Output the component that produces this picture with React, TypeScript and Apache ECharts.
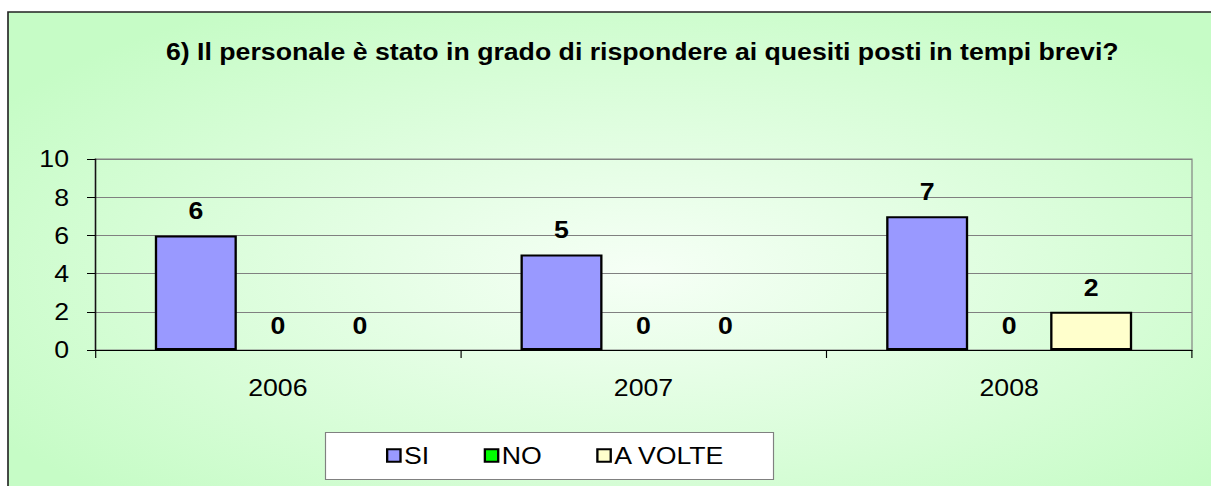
import React, { useEffect, useRef } from "react";
import * as echarts from "echarts";

const categories = ["2006", "2007", "2008"];
const siValues = [6, 5, 7];
const noValues = [0, 0, 0];
const aVolteValues = [0, 0, 2];
const seriesNames = ["SI", "NO", "A VOLTE"];
const yTicks = [0, 2, 4, 6, 8, 10];
const titleText = "6) Il personale è stato in grado di rispondere ai quesiti posti in tempi brevi?";

const FONT = "'Liberation Sans', Arial, sans-serif";
const SX = 1.16; // horizontal stretch of the reference rendering
const W = 1211;
const H = 486;
const sx = (v: number) => v / SX;

export default function App() {
  const ref = useRef<HTMLDivElement>(null);
  useEffect(() => {
    if (!ref.current) return;
    const chart = echarts.init(ref.current, null, { renderer: "svg" });
    const colors = ["#9999ff", "#00ff00", "#ffffcc"];
    const values = [siValues, noValues, aVolteValues];
    const option: any = {
      animation: false,
      graphic: [
        {
          type: "rect",
          z: -10,
          shape: { x: sx(8), y: 12, width: sx(1266), height: 520 },
          style: {
            stroke: "#222",
            lineWidth: 1.4,
            fill: {
              type: "radial",
              x: 0.5,
              y: 0.5,
              r: 0.6,
              colorStops: [
                { offset: 0, color: "#f6fff6" },
                { offset: 1, color: "#c6fcc6" },
              ],
            },
          },
        },
        {
          type: "rect",
          z: -5,
          shape: { x: sx(325.5), y: 432.5, width: sx(448), height: 47 },
          style: { fill: "#ffffff", stroke: "#808080", lineWidth: 1 },
        },
      ],
      title: {
        text: titleText,
        left: sx(166),
        top: 40,
        padding: 0,
        textStyle: { fontFamily: FONT, fontSize: 23, fontWeight: "bold", color: "#000" },
      },
      legend: {
        data: seriesNames,
        left: sx(386),
        top: 444,
        padding: 0,
        itemWidth: 11.5,
        itemHeight: 12.5,
        itemGap: 47,
        icon: "rect",
        textStyle: { fontFamily: FONT, fontSize: 23, color: "#000", padding: [0, 0, 0, -2] },
      },
      grid: {
        left: sx(95),
        top: 159,
        width: sx(1097),
        height: 191,
        show: true,
        borderColor: "#808080",
        borderWidth: 1,
        backgroundColor: "transparent",
      },
      xAxis: {
        type: "category",
        data: categories,
        axisLine: { lineStyle: { color: "#000", width: 1 } },
        axisTick: { show: true, length: 8, interval: 0, lineStyle: { color: "#000" } },
        axisLabel: { margin: 26, fontFamily: FONT, fontSize: 23, color: "#000" },
        splitLine: { show: false },
      },
      yAxis: {
        type: "value",
        min: yTicks[0],
        max: yTicks[yTicks.length - 1],
        interval: 2,
        axisLine: { show: true, lineStyle: { color: "#000", width: 1 } },
        axisTick: { show: true, length: sx(8), lineStyle: { color: "#000" } },
        axisLabel: { margin: sx(26), fontFamily: FONT, fontSize: 23, color: "#000" },
        splitLine: { show: true, lineStyle: { color: "#808080", width: 1 } },
      },
      series: seriesNames.map((name, i) => ({
        name,
        type: "bar",
        data: values[i].map((v) => ({
          value: v,
          itemStyle: { borderWidth: v === 0 ? 0 : 2 },
        })),
        barWidth: sx(82),
        barGap: "0%",
        itemStyle: { color: colors[i], borderColor: "#000", borderWidth: 2 },
        label: {
          show: true,
          position: "top",
          distance: 13,
          fontFamily: FONT,
          fontSize: 23,
          fontWeight: "bold",
          color: "#000",
        },
      })),
    };
    chart.setOption(option);
    return () => chart.dispose();
  }, []);
  return (
    <div style={{ position: "absolute", left: 0, top: 0, width: W, height: H, overflow: "hidden" }}>
      <div
        ref={ref}
        style={{
          width: sx(W),
          height: H,
          transform: `scaleX(${SX})`,
          transformOrigin: "0 0",
        }}
      />
    </div>
  );
}
